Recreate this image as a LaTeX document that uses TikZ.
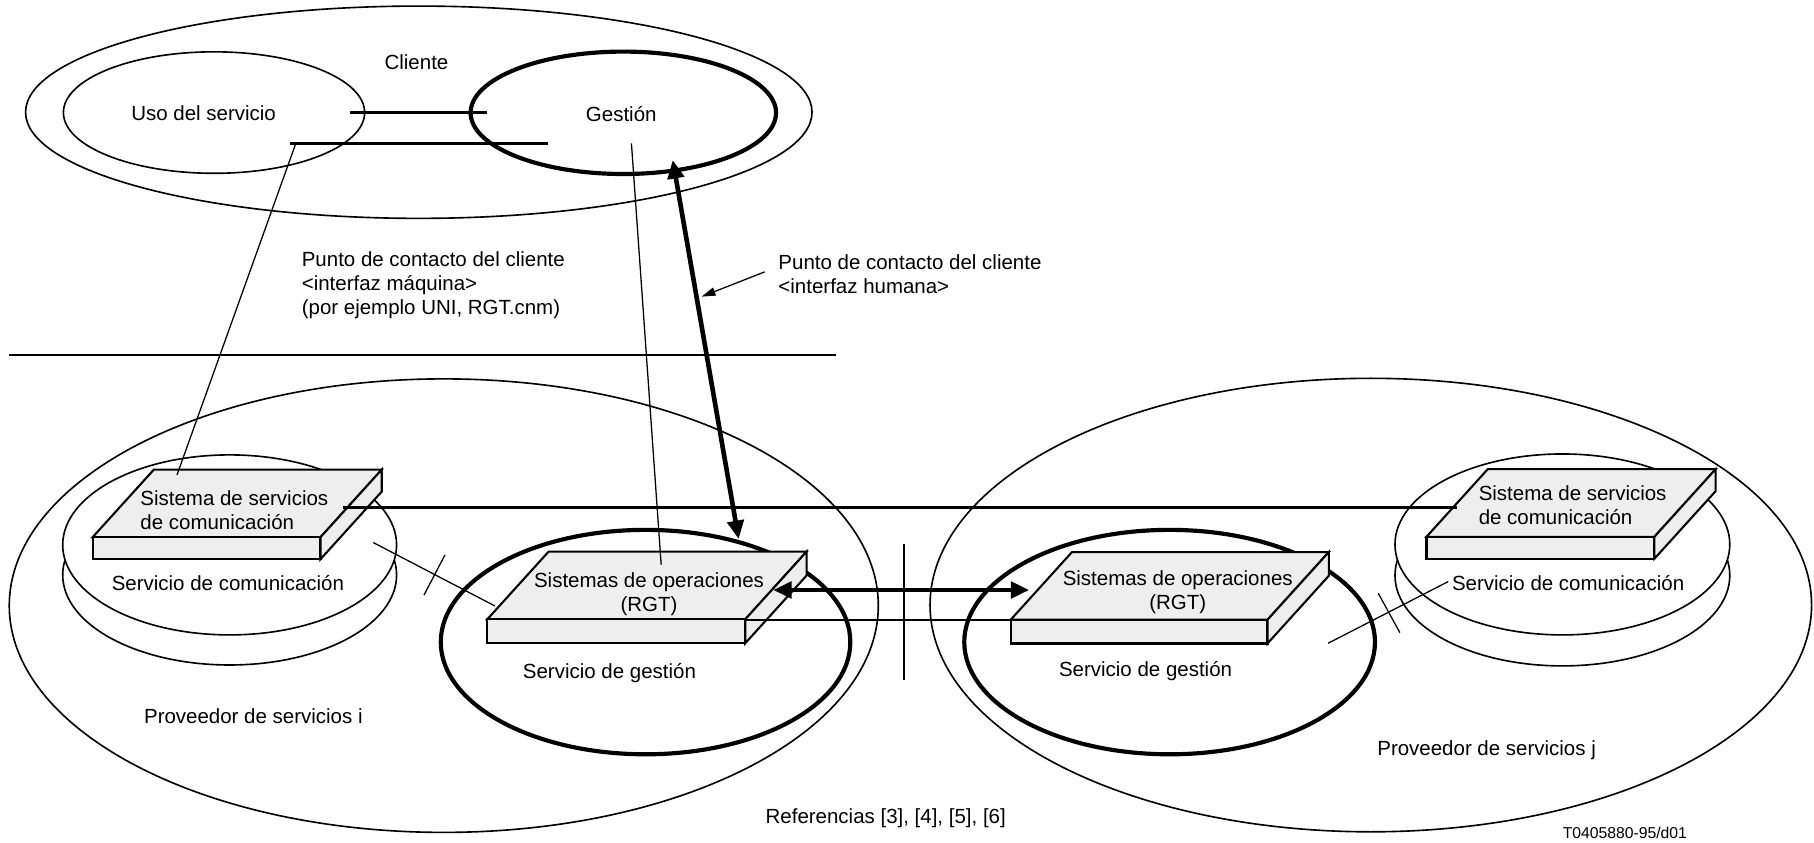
\documentclass[tikz,border=0pt]{standalone}
\usepackage{fontspec}
\setmainfont{Liberation Sans}
\usetikzlibrary{arrows.meta,shapes.geometric,calc}
\definecolor{slabgray}{HTML}{EEEEEE}
\newcommand\slabbox[4]{% name, front-top-left coordinate, width, thickness
  \coordinate (#1-ftl) at #2;
  \coordinate (#1-ftr) at ($(#1-ftl)+(#3,0)$);
  \draw[slabface] (#1-ftl) -- ++(53,-58.5) -- ++(#3,0) -- ++(-53,58.5) -- cycle;
  \draw[slabface] (#1-ftl) rectangle ++(#3,#4);
  \draw[slabface] (#1-ftr) -- ++(53,-58.5) -- ++(0,#4) -- ++(-53,58.5) -- cycle;
}
\begin{document}
\begin{tikzpicture}[x=0.5pt,y=-0.5pt,
  lbl/.style={font=\fontsize{8.85}{10.4}\selectfont, inner sep=0pt},
  ell/.style={draw, ellipse, inner sep=0pt, line width=0.7pt},
  mgmt/.style={ell, line width=1.8pt},
  disk/.style={ell, fill=white},
  thinln/.style={line width=0.55pt},
  medln/.style={line width=1.15pt},
  slabface/.style={draw, fill=slabgray, line width=0.9pt, line join=miter},
  boldarr/.style={line width=2pt, {Triangle[length=8pt,width=7pt]}-{Triangle[length=8pt,width=7pt]}},
  notearr/.style={thinln, -{Triangle[length=6pt,width=3.6pt]}},
]
\useasboundingbox (0,0) rectangle (1568,728);

% provider ellipses
\node[ell, minimum width=375.6pt, minimum height=196pt] (provi) at (383.6,523.5) {};
\node[ell, minimum width=381pt, minimum height=196pt] (provj) at (1184.9,523) {};

% client
\node[ell, minimum width=339.9pt, minimum height=91.75pt] (cliente) at (362,97) {};
\node[ell, minimum width=130.2pt, minimum height=52.5pt] (uso) at (185,97.3) {};
\node[mgmt, minimum width=132pt, minimum height=52.9pt] (gestion) at (538.8,97.5) {};
\node[lbl, anchor=base] (tcliente) at (360,60.5) {Cliente};
\node[lbl, anchor=base] (tuso) at (176,104) {Uso del servicio};
\node[lbl, anchor=base] (tgestion) at (537,105) {Gestión};

\coordinate (l1a) at (302.6,97.1); \coordinate (l1b) at (420.7,97.1);
\coordinate (l2a) at (250.6,123.9); \coordinate (l2b) at (473.8,123.9);
\draw[medln] (l1a) -- (l1b);
\draw[medln] (l2a) -- (l2b);

% management service ellipses
\node[mgmt, minimum width=177pt, minimum height=97pt] (mgl) at (558,555) {};
\node[mgmt, minimum width=177.5pt, minimum height=97pt] (mgr) at (1011,555) {};

% communication service disks
\node[disk, minimum width=144.3pt, minimum height=77.8pt] (dl2) at (198.5,497) {};
\node[disk, minimum width=144.3pt, minimum height=77.8pt] (dl1) at (198.5,471) {};
\node[disk, minimum width=144.7pt, minimum height=78.2pt] (dr2) at (1350.5,497.4) {};
\node[disk, minimum width=144.7pt, minimum height=78.2pt] (dr1) at (1350.5,470.6) {};

% slabs
\slabbox{csl}{(80,464.4)}{197}{19}
\slabbox{csr}{(1233,464)}{197}{19}
\slabbox{osl}{(421.2,535.3)}{223}{20.7}
\slabbox{osr}{(873.6,535.7)}{222}{20.5}

\node[lbl, anchor=north west, align=left] (tcsl) at (121,424) {Sistema de servicios\\de comunicación};
\node[lbl, anchor=north west, align=left] (tcsr) at (1277.8,419.7) {Sistema de servicios\\de comunicación};
\node[lbl, anchor=north, align=center] (tosl) at (561,494.6) {Sistemas de operaciones\\(RGT)};
\node[lbl, anchor=north, align=center] (tosr) at (1018,492.6) {Sistemas de operaciones\\(RGT)};

% connectors
\coordinate (usoend) at (153,410.5);
\coordinate (usostart) at (255.5,124.5);
\draw[thinln] (usostart) -- (usoend);
\coordinate (gesstart) at (545.8,123.9);
\coordinate (gesend) at (571.5,488);
\draw[thinln] (gesstart) -- (gesend);
\coordinate (hia) at (581.5,138.3);
\coordinate (hib) at (638.5,466);
\draw[boldarr] (hia) -- (hib);

\coordinate (longa) at (296.7,438.8); \coordinate (longb) at (1259,438.8);
\draw[medln] (longa) -- (longb);
\coordinate (osla) at (644.4,535.9); \coordinate (oslb) at (873.6,535.9);
\draw[medln] (osla) -- (oslb);
\coordinate (osxa) at (668.3,510); \coordinate (osxb) at (889.7,510);
\draw[boldarr] (osxa) -- (osxb);

\coordinate (vdiva) at (781.5,470); \coordinate (vdivb) at (781.5,588);
\draw[medln] (vdiva) -- (vdivb);
\coordinate (hdiva) at (8,306.8); \coordinate (hdivb) at (722.6,306.8);
\draw[medln] (hdiva) -- (hdivb);

\coordinate (cla) at (322.7,469); \coordinate (clb) at (427.8,523.8);
\draw[thinln] (cla) -- (clb);
\coordinate (tla) at (384.6,479.7); \coordinate (tlb) at (366.5,514.3);
\draw[thinln] (tla) -- (tlb);
\coordinate (cra) at (1148,556); \coordinate (crb) at (1251.8,502.7);
\draw[thinln] (cra) -- (crb);
\coordinate (tra) at (1191.3,512.8); \coordinate (trb) at (1210,546.8);
\draw[thinln] (tra) -- (trb);

\coordinate (notea) at (661,235); \coordinate (noteb) at (606.5,256.4);
\draw[notearr] (notea) -- (noteb);

% labels
\node[lbl, anchor=north west, align=left] (tmaq) at (260.5,217.3) {Punto de contacto del cliente\\<interfaz máquina>\\(por ejemplo UNI, RGT.cnm)};
\node[lbl, anchor=north west, align=left] (thum) at (672.5,219.3) {Punto de contacto del cliente\\<interfaz humana>};
\node[lbl, anchor=base] (tscl) at (197,510.8) {Servicio de comunicación};
\node[lbl, anchor=base west] (tscr) at (1254.7,510.8) {Servicio de comunicación};
\node[lbl, anchor=base] (tsgl) at (526.8,586.5) {Servicio de gestión};
\node[lbl, anchor=base] (tsgr) at (990.2,585) {Servicio de gestión};
\node[lbl, anchor=base] (tpi) at (219,625.4) {Proveedor de servicios i};
\node[lbl, anchor=base] (tpj) at (1285,652.8) {Proveedor de servicios j};
\node[lbl, anchor=base] (tref) at (765.6,711.8) {Referencias [3], [4], [5], [6]};
\node[inner sep=0pt, anchor=base, font=\fontsize{6.8}{8}\selectfont] (tcode) at (1404.5,724.9) {T0405880-95/d01};
\end{tikzpicture}
\end{document}
